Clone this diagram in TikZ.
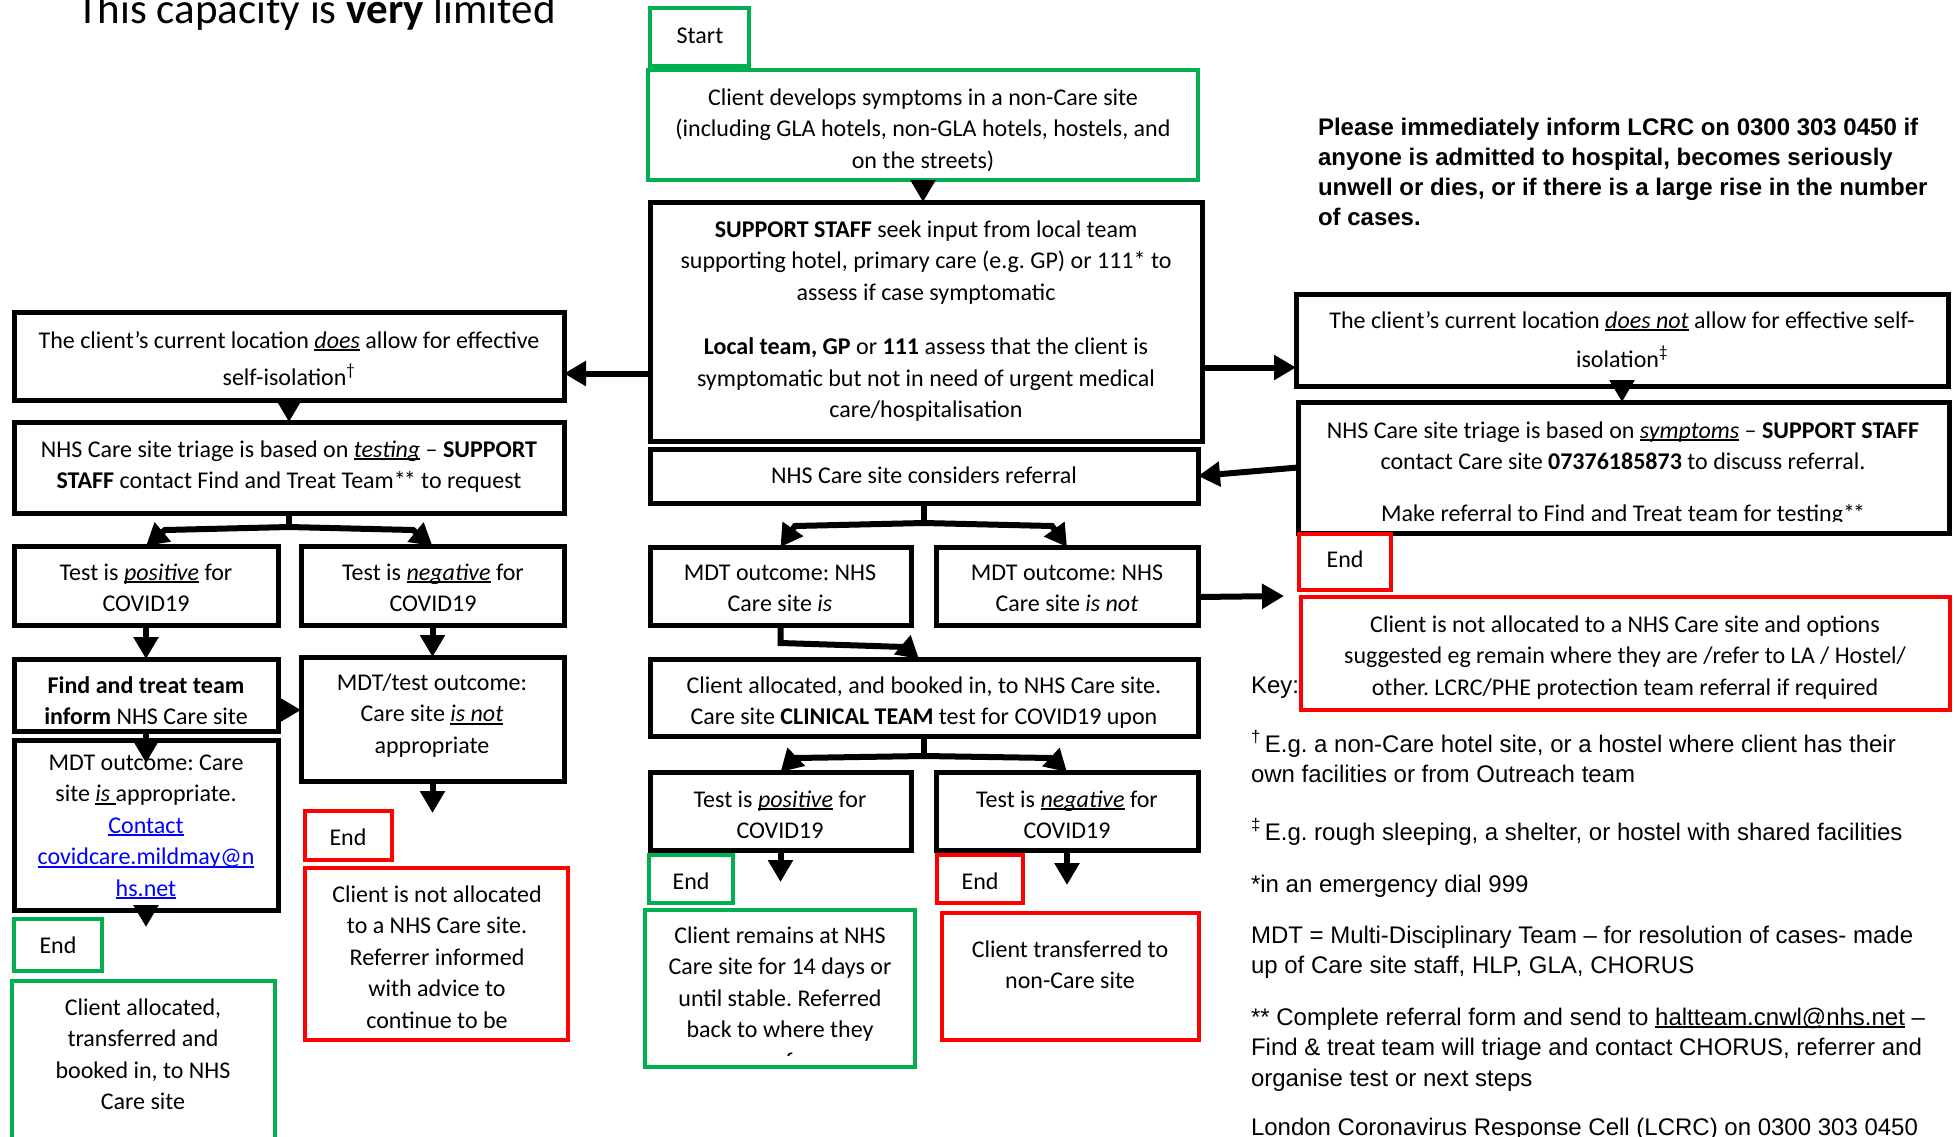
\documentclass[tikz,border=0pt]{standalone}
\usepackage{fontspec}
\setmainfont{Carlito}
\newfontfamily\arialf{Liberation Sans}
\usetikzlibrary{arrows.meta,fit,calc}
\definecolor{gr}{HTML}{00B050}
\definecolor{rd}{HTML}{FF0000}
\definecolor{lk}{HTML}{0000FF}
\newcommand\myul[1]{\setbox0\hbox{#1}\rlap{\rule[-3pt]{\wd0}{1.6pt}}\box0\relax}
\newcommand\tl[1]{\begin{tabular}[t]{@{}c@{}}#1\end{tabular}}
\newcommand\tll[1]{\begin{tabular}[t]{@{}l@{}}#1\end{tabular}}
\newcommand\dst{*\kern-2pt*}
\tikzset{
 bbox/.style={draw=black, line width=5pt, inner sep=0pt, outer sep=0pt},
 gbox/.style={draw=gr, line width=4.5pt, inner sep=0pt, outer sep=0pt},
 rbox/.style={draw=rd, line width=4.5pt, inner sep=0pt, outer sep=0pt},
 txt/.style={inner sep=0pt, outer sep=0pt, anchor=base, font=\fontsize{24}{31.5}\selectfont},
 ktxt/.style={inner sep=0pt, outer sep=0pt, anchor=base west, font=\arialf\fontsize{24}{30.5}\selectfont},
 arr/.style={line width=6pt, -{Triangle[length=22pt,width=24pt]}},
 ln/.style={line width=6pt},
}
\begin{document}
\frenchspacing
\begin{tikzpicture}[x=1pt,y=-1pt]
\useasboundingbox (0,0) rectangle (1955,1136);

% title
\node[txt, anchor=base west, font=\fontsize{43}{50}\selectfont] (title) at (77,23) {This capacity is \textbf{very} limited};

% note
\node[ktxt, font=\arialf\bfseries\fontsize{24}{30}\selectfont] (note) at (1318,135) {\tll{Please immediately inform LCRC on 0300 303 0450 if\\anyone is admitted to hospital, becomes seriously\\unwell or dies, or if there is a large rise in the number\\of cases.}};

% key
\node[ktxt] (key) at (1251,693) {Key:};
\node[ktxt] (k1) at (1251,752) {\tll{\textsuperscript{†}\hspace{4pt}E.g. a non-Care hotel site, or a hostel where client has their\\own facilities or from Outreach team}};
\node[ktxt] (k2) at (1251,840) {\textsuperscript{‡}\hspace{4pt}E.g. rough sleeping, a shelter, or hostel with shared facilities};
\node[ktxt] (k3) at (1251,892) {*in an emergency dial 999};
\node[ktxt] (k4) at (1251,943) {\tll{MDT = Multi-Disciplinary Team – for resolution of cases- made\\up of Care site staff, HLP, GLA, CHORUS}};
\node[ktxt] (k5) at (1251,1025) {\tll{** Complete referral form and send to \myul{haltteam.cnwl@nhs.net} –\\Find \& treat team will triage and contact CHORUS, referrer and\\organise test or next steps}};
\node[ktxt] (k6) at (1251,1135) {London Coronavirus Response Cell (LCRC) on 0300 303 0450};

% centre column
\node[gbox, fit={(650,8) (749,66)}] (start) {};
\node[txt] (start-t) at (700,43) {Start};
\node[gbox, fit={(648,70) (1198,180)}] (sym) {};
\node[txt] (sym-t) at (923,105) {\tl{Client develops symptoms in a non-Care site\\(including GLA hotels, non-GLA hotels, hostels, and\\on the streets)}};
\node[bbox, fit={(650,202) (1202,441)}] (support) {};
\node[txt] (support-t) at (926,237) {\tl{\textbf{SUPPORT STAFF} seek input from local team\\supporting hotel, primary care (e.g. GP) or 111* to\\assess if case symptomatic\\[23pt]\textbf{Local team, GP} or \textbf{111} assess that the client is\\symptomatic but not in need of urgent medical\\care/hospitalisation}};
\node[bbox, fit={(650,449) (1198,503)}] (considers) {};
\node[txt] (considers-t) at (924,483) {NHS Care site considers referral};
\node[bbox, fit={(650,547) (911,625)}] (mdtis) {};
\node[txt] (mdtis-t) at (780,580) {\tl{MDT outcome: NHS\\Care site \textit{is}}};
\node[bbox, fit={(936,547) (1198,625)}] (mdtnot) {};
\node[txt] (mdtnot-t) at (1067,580) {\tl{MDT outcome: NHS\\Care site \textit{is not}}};
\node[bbox, fit={(650,659) (1198,736)}] (alloc) {};
\node[txt] (alloc-t) at (924,693) {\tl{Client allocated, and booked in, to NHS Care site.\\Care site \textbf{CLINICAL TEAM} test for COVID19 upon}};
\node[bbox, fit={(650,772) (911,850)}] (testposC) {};
\node[txt] (testposC-t) at (780,807) {\tl{Test is \myul{\textit{positive}} for\\COVID19}};
\node[bbox, fit={(936,772) (1198,850)}] (testnegC) {};
\node[txt] (testnegC-t) at (1067,807) {\tl{Test is \myul{\textit{negative}} for\\COVID19}};
\node[gbox, fit={(649,855) (733,903)}] (endgC) {};
\node[txt] (endgC-t) at (691,889) {End};
\node[rbox, fit={(937,855) (1023,903)}] (endrC) {};
\node[txt] (endrC-t) at (980,889) {End};
\node[gbox, fit={(645,910) (915,1067)}] (remain) {};
\begin{scope}
\clip (645,910) rectangle (915,1055);
\node[txt] (remain-t) at (780,943) {\tl{Client remains at NHS\\Care site for 14 days or\\until stable. Referred\\back to where they\\came from}};
\end{scope}
\node[rbox, fit={(942,913) (1199,1040)}] (transf) {};
\node[txt] (transf-t) at (1070,957) {\tl{Client transferred to\\non-Care site}};

% left column
\node[bbox, fit={(14,312) (564,400)}] (leftbox) {};
\node[txt] (leftbox-t) at (289,348) {\tl{The client’s current location \myul{\textit{does}} allow for effective\\[5.5pt]self-isolation\textsuperscript{†}}};
\node[bbox, fit={(14,422) (564,513)}] (triageL) {};
\node[txt] (triageL-t) at (289,457) {\tl{NHS Care site triage is based on \myul{\textit{testing}} – \textbf{SUPPORT}\\\textbf{STAFF} contact Find and Treat Team\dst{} to request}};
\node[bbox, fit={(14,546) (278,625)}] (testposL) {};
\node[txt] (testposL-t) at (146,580) {\tl{Test is \myul{\textit{positive}} for\\COVID19}};
\node[bbox, fit={(301,546) (564,625)}] (testnegL) {};
\node[txt] (testnegL-t) at (433,580) {\tl{Test is \myul{\textit{negative}} for\\COVID19}};
\node[bbox, fit={(14,659) (278,731)}] (find) {};
\node[txt] (find-t) at (146,693) {\tl{\textbf{Find and treat team}\\\textbf{inform} NHS Care site}};
\node[bbox, fit={(14,740) (278,910)}] (mdtL) {};
\node[txt] (mdtL-t) at (146,770) {\tl{MDT outcome: Care\\site \myul{\textit{is}\ }appropriate.\\\textcolor{lk}{\myul{Contact}}\\\textcolor{lk}{\myul{covidcare.mildmay@n}}\\\textcolor{lk}{\myul{hs.net}}}};
\node[bbox, fit={(301,657) (564,781)}] (mdttest) {};
\node[txt] (mdttest-t) at (432,690) {\tl{MDT/test outcome:\\Care site \myul{\textit{is not}}\\appropriate}};
\node[rbox, fit={(305,811) (392,860)}] (endrL) {};
\node[txt] (endrL-t) at (348,845) {End};
\node[rbox, fit={(305,868) (568,1040)}] (notallocL) {};
\node[txt] (notallocL-t) at (437,902) {\tl{Client is not allocated\\to a NHS Care site.\\Referrer informed\\with advice to\\continue to be}};
\node[gbox, fit={(14,919) (102,971)}] (endgL) {};
\node[txt] (endgL-t) at (58,953) {End};
\node[gbox, fit={(12,981) (275,1150)}] (allocL) {};
\node[txt] (allocL-t) at (143,1015) {\tl{Client allocated,\\transferred and\\booked in, to NHS\\Care site}};

% right column
\node[bbox, fit={(1296,294) (1948,386)}] (doesnot) {};
\node[txt] (doesnot-t) at (1622,328) {\tl{The client’s current location \myul{\textit{does not}} allow for effective self-\\[7.5pt]isolation\textsuperscript{‡}}};
\node[bbox, fit={(1298,402) (1949,533)}] (triageR) {};
\begin{scope}
\clip (1298,402) rectangle (1949,521);
\node[txt] (triageR-t) at (1623,438) {\tl{NHS Care site triage is based on \myul{\textit{symptoms}} – \textbf{SUPPORT STAFF}\\contact Care site \textbf{07376185873} to discuss referral.\\[20pt]Make referral to Find and Treat team for testing\dst}};
\end{scope}
\node[rbox, fit={(1299,534) (1391,590)}] (endrR) {};
\node[txt] (endrR-t) at (1345,567) {End};
\node[rbox, fit={(1301,597) (1950,710)}] (notallocR) {};
\node[txt] (notallocR-t) at (1625,632) {\tl{Client is not allocated to a NHS Care site and options\\suggested eg remain where they are /refer to LA / Hostel/\\other. LCRC/PHE protection team referral if required}};

% connectors
\draw[arr] (sym.south) -- (sym.south |- support.north);
\draw[arr] ([yshift=-52pt]support.west) -- ([yshift=-52pt]support.west -| leftbox.east);
\draw[arr] ([yshift=-46pt]support.east) -- ([yshift=-46pt]support.east -| doesnot.west);
\draw[arr] (leftbox.south) -- (leftbox.south |- triageL.north);
\draw[arr] (doesnot.south) -- (doesnot.south |- triageR.north);
\draw[arr] (triageR.west) -- (considers.east);

\draw[ln] (triageL.south) -- ++(0,14) coordinate (fL);
\draw[arr] (fL) -- (165,530) -- (testposL.north);
\draw[arr] (fL) -- (413,530) -- (testnegL.north);
\draw[arr] (testposL.south) -- (find.north);
\draw[arr] (testnegL.south) -- (testnegL.south |- mdttest.north);
\draw[arr] (find.south) -- ++(0,32) coordinate (findtip);
\draw[arr] ([yshift=-15pt]find.east) -- ([yshift=-15pt]find.east -| mdttest.west);
\draw[arr] (mdttest.south) -- ++(0,32) coordinate (mdttesttip);
\draw[arr] (mdtL.south) -- ++(0,17) coordinate (mdtLtip);

\draw[ln] (considers.south) -- ++(0,20) coordinate (fC1);
\draw[arr] (fC1) -- (795,526) -- (mdtis.north);
\draw[arr] (fC1) -- (1052,526) -- (mdtnot.north);
\coordinate (rtip) at (1284,596);
\draw[arr] ([yshift=-11pt]mdtnot.east) -- (rtip);
\draw[arr] (mdtis.south) -- ++(0,18) -- (905,647) -- ($(alloc.north)+(-5,0)$);
\draw[ln] (alloc.south) -- ++(0,20) coordinate (fC2);
\draw[arr] (fC2) -- (795,758) -- (testposC.north);
\draw[arr] (fC2) -- (1052,758) -- (testnegC.north);
\draw[arr] (testposC.south) -- ++(0,32) coordinate (tpCtip);
\draw[arr] (testnegC.south) -- ++(0,35) coordinate (tnCtip);
\end{tikzpicture}
\end{document}
